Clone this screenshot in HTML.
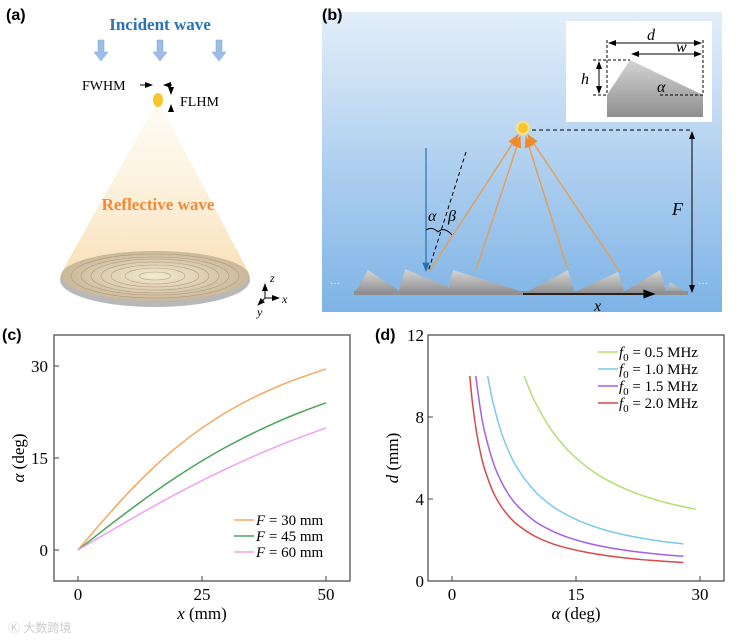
<!DOCTYPE html>
<html><head><meta charset="utf-8"><style>
body{margin:0;background:#fff;}
svg{display:block;font-family:"Liberation Serif",serif;}
.pl{font-family:"Liberation Sans",sans-serif;font-weight:bold;font-size:16px;}
</style></head><body>
<svg width="748" height="641" viewBox="0 0 748 641" xmlns="http://www.w3.org/2000/svg">
<defs>
<linearGradient id="bg" x1="0" y1="0" x2="0" y2="1"><stop offset="0" stop-color="#e3eef9"/><stop offset="1" stop-color="#7db3e6"/></linearGradient>
<linearGradient id="cone" x1="0" y1="0" x2="0" y2="1"><stop offset="0" stop-color="#fdf3dc" stop-opacity="0.3"/><stop offset="1" stop-color="#f7d9a8"/></linearGradient>
<linearGradient id="tri" x1="0" y1="0" x2="0" y2="1"><stop offset="0" stop-color="#d4d4d4"/><stop offset="1" stop-color="#8e8e8e"/></linearGradient>
<radialGradient id="disc" cx="0.5" cy="0.5" r="0.5"><stop offset="0" stop-color="#f3ead0"/><stop offset="1" stop-color="#c9b89a"/></radialGradient>
<marker id="ah" markerWidth="8" markerHeight="8" refX="7" refY="4" orient="auto"><path d="M0,1 L8,4 L0,7z" fill="#000"/></marker>
<marker id="ahb" markerWidth="8" markerHeight="8" refX="7" refY="4" orient="auto"><path d="M0,1 L8,4 L0,7z" fill="#2a6fb4"/></marker>
<marker id="aho" markerWidth="8" markerHeight="8" refX="7" refY="4" orient="auto"><path d="M0,1 L8,4 L0,7z" fill="#f08a2a"/></marker>
</defs>

<!-- Panel a -->
<g>
<text class="pl" x="6" y="20">(a)</text>
<text x="160" y="30" text-anchor="middle" font-size="17" font-weight="bold" fill="#2a72b5">Incident wave</text>
<g fill="#9dbde6" stroke="#7aa3d6" stroke-width="0.5">
<path d="M98,40h6v12h4l-7,9l-7,-9h4z"/><path d="M157,40h6v12h4l-7,9l-7,-9h4z"/><path d="M216,40h6v12h4l-7,9l-7,-9h4z"/>
</g>
<path d="M158,100 L60,275 A95,28 0 0 0 250,275 Z" fill="url(#cone)"/>
<ellipse cx="155" cy="280" rx="95" ry="27" fill="#b8b8b8"/>
<ellipse cx="155" cy="276" rx="94" ry="25" fill="url(#disc)"/>
<g fill="none" stroke="#a89070" stroke-width="0.6" opacity="0.8">
<ellipse cx="155" cy="276" rx="84" ry="22"/><ellipse cx="155" cy="276" rx="74" ry="19"/><ellipse cx="155" cy="276" rx="64" ry="17"/><ellipse cx="155" cy="276" rx="54" ry="14"/><ellipse cx="155" cy="276" rx="44" ry="11"/><ellipse cx="155" cy="276" rx="30" ry="8"/><ellipse cx="155" cy="276" rx="16" ry="4"/>
</g>
<ellipse cx="158" cy="100" rx="5" ry="7" fill="#f7c531"/>
<text x="82" y="90" font-size="14">FWHM</text>
<line x1="140" y1="85" x2="152" y2="85" stroke="#000" marker-end="url(#ah)"/>
<line x1="172" y1="85" x2="164" y2="85" stroke="#000" marker-end="url(#ah)"/>
<line x1="171" y1="88" x2="171" y2="94" stroke="#000" marker-end="url(#ah)"/>
<line x1="171" y1="112" x2="171" y2="105" stroke="#000" marker-end="url(#ah)"/>
<text x="180" y="106" font-size="14">FLHM</text>
<text x="158" y="210" text-anchor="middle" font-size="17" font-weight="bold" fill="#f08a3a">Reflective wave</text>
<g stroke="#000" stroke-width="1">
<line x1="265" y1="298" x2="265" y2="284" marker-end="url(#ah)"/><line x1="265" y1="298" x2="279" y2="298" marker-end="url(#ah)"/><line x1="265" y1="298" x2="258" y2="305" marker-end="url(#ah)"/>
</g>
<text x="270" y="282" font-size="12" font-style="italic">z</text><text x="282" y="303" font-size="12" font-style="italic">x</text><text x="257" y="316" font-size="12" font-style="italic">y</text>
</g>

<!-- Panel b -->
<g>
<rect x="322" y="12" width="400" height="300" fill="url(#bg)"/>
<text class="pl" x="322" y="20">(b)</text>
<g fill="url(#tri)">
<path d="M354,294 L368,270 L398,290 L398,294Z"/>
<path d="M398,294 L405,269 L448,287 L448,294Z"/>
<path d="M447,294 L453,270 L523,292 L523,294Z"/>
<path d="M523,294 L568,270 L575,294Z"/>
<path d="M570,294 L618,272 L625,294Z"/>
<path d="M620,294 L660,270 L667,294Z"/>
<path d="M667,294 L670,282 L688,294Z"/>
<rect x="354" y="291" width="334" height="4" fill="#909090"/>
</g>
<text x="330" y="287" fill="#e8f1fa" font-size="10">···</text><text x="698" y="287" fill="#e8f1fa" font-size="10">···</text>
<line x1="426" y1="148" x2="426" y2="271" stroke="#2a6fb4" stroke-width="1.2" marker-end="url(#ahb)"/>
<line x1="466" y1="152" x2="428" y2="272" stroke="#000" stroke-dasharray="4,3"/>
<g stroke="#e0a060" stroke-width="1.5">
<line x1="429" y1="272" x2="518" y2="135" marker-end="url(#aho)"/>
<line x1="476" y1="270" x2="520" y2="137" marker-end="url(#aho)"/>
<line x1="568" y1="270" x2="526" y2="137" marker-end="url(#aho)"/>
<line x1="620" y1="272" x2="528" y2="135" marker-end="url(#aho)"/>
</g>
<circle cx="523" cy="128" r="6" fill="#f7c531" stroke="#fbe27a" stroke-width="2"/>
<text x="428" y="221" font-size="16" font-style="italic">α</text><text x="448" y="221" font-size="16" font-style="italic">β</text>
<path d="M426,230 Q432,226 438,232 M438,232 Q444,226 452,235" fill="none" stroke="#000"/>
<line x1="532" y1="130" x2="692" y2="130" stroke="#000" stroke-dasharray="4,3"/>
<line x1="692" y1="210" x2="692" y2="132" stroke="#000" marker-end="url(#ah)"/>
<line x1="692" y1="210" x2="692" y2="292" stroke="#000" marker-end="url(#ah)"/>
<text x="672" y="215" font-size="18" font-style="italic">F</text>
<line x1="523" y1="294" x2="654" y2="294" stroke="#000" stroke-width="1.5" marker-end="url(#ah)"/>
<text x="594" y="311" font-size="16" font-style="italic">x</text>
<g>
<rect x="566" y="21" width="146" height="101" fill="#fff"/>
<path d="M607,95 L630,60 L703,95 L703,117 L607,117Z" fill="url(#tri)"/>
<g stroke="#000" stroke-dasharray="3,2" fill="none"><line x1="607" y1="40" x2="607" y2="95"/><line x1="703" y1="40" x2="703" y2="95"/><line x1="593" y1="60" x2="630" y2="60"/><line x1="593" y1="95" x2="607" y2="95"/><line x1="660" y1="95" x2="703" y2="95"/></g>
<line x1="655" y1="43" x2="609" y2="43" stroke="#000" marker-end="url(#ah)"/><line x1="655" y1="43" x2="701" y2="43" stroke="#000" marker-end="url(#ah)"/>
<line x1="665" y1="54" x2="632" y2="54" stroke="#000" marker-end="url(#ah)"/><line x1="665" y1="54" x2="701" y2="54" stroke="#000" marker-end="url(#ah)"/>
<line x1="599" y1="78" x2="599" y2="62" stroke="#000" marker-end="url(#ah)"/><line x1="599" y1="78" x2="599" y2="93" stroke="#000" marker-end="url(#ah)"/>
<text x="647" y="40" font-size="16" font-style="italic">d</text><text x="676" y="52" font-size="16" font-style="italic">w</text>
<text x="581" y="84" font-size="16" font-style="italic">h</text><text x="657" y="92" font-size="16" font-style="italic">α</text>
</g>
</g>

<!-- Panel c -->
<g id="pc">
<text class="pl" x="2" y="340">(c)</text>
<rect x="54" y="335" width="296" height="246" fill="none" stroke="#444" stroke-width="1.2"/>
</g>
<!-- Panel d -->
<g id="pd">
<text class="pl" x="375" y="340">(d)</text>
<rect x="428" y="335" width="296" height="246" fill="none" stroke="#444" stroke-width="1.2"/>
</g>
<text x="8" y="632" font-size="12" fill="#ccc" font-family="'Liberation Sans','Noto Sans CJK SC',sans-serif">Ⓚ 大数跨境</text>
</svg>
<script>
const NS="http://www.w3.org/2000/svg";
// Panel c data
const cX=[0,5,10,15,20,25,30,35,40,45,50];
const cF30=[0,4.73,9.22,13.28,16.85,19.9,22.5,24.7,26.57,28.15,29.52];
const cF45=[0,3.17,6.26,9.22,11.98,14.53,16.85,18.93,20.82,22.5,24.0];
const cF60=[0,2.38,4.73,7.02,9.22,11.31,13.28,15.13,16.85,18.43,19.9];
const cXTicks=[0,25,50];
const cYTicks=[0,15,30];
const cLegend=["F = 30 mm","F = 45 mm","F = 60 mm"];
// Panel d data
const dA05=[8.73,10,12,14,16,18,20,22,24,26,28,29.5];
const dD05=[10,8.77,7.38,6.39,5.66,5.10,4.67,4.32,4.04,3.81,3.62,3.50];
const dA10=[4.31,5,6,7,8,10,12,14,16,18,20,22,24,26,28];
const dD10=[10,8.64,7.21,6.20,5.44,4.39,3.69,3.20,2.83,2.55,2.33,2.16,2.02,1.90,1.81];
const dA15=[2.87,3.5,4,5,6,7,8,10,12,14,16,18,20,22,24,26,28];
const dD15=[10,8.20,7.19,5.76,4.81,4.13,3.63,2.92,2.46,2.13,1.89,1.70,1.56,1.44,1.35,1.27,1.21];
const dA20=[2.15,2.5,3,3.5,4,5,6,7,8,10,12,14,16,18,20,22,24,26,28];
const dD20=[10,8.60,7.18,6.15,5.39,4.32,3.61,3.10,2.72,2.19,1.84,1.60,1.42,1.28,1.17,1.08,1.01,0.95,0.905];
const dXTicks=[0,15,30];
const dYTicks=[0,4,8,12];
const dLegend=["0.5 MHz","1.0 MHz","1.5 MHz","2.0 MHz"];

function mk(tag,attrs,parent){const e=document.createElementNS(NS,tag);for(const k in attrs)e.setAttribute(k,attrs[k]);parent.appendChild(e);return e;}
function smooth(pts){let d="M"+pts[0][0]+","+pts[0][1];for(let i=0;i<pts.length-1;i++){const p0=pts[Math.max(0,i-1)],p1=pts[i],p2=pts[i+1],p3=pts[Math.min(pts.length-1,i+2)];d+=" C"+(p1[0]+(p2[0]-p0[0])/6)+","+(p1[1]+(p2[1]-p0[1])/6)+" "+(p2[0]-(p3[0]-p1[0])/6)+","+(p2[1]-(p3[1]-p1[1])/6)+" "+p2[0]+","+p2[1];}return d;}

// Panel c
const gc=document.getElementById('pc');
const cx=v=>78+v*(326-78)/50, cy=v=>550-v*(550-366)/30;
cXTicks.forEach(t=>{const l=mk('line',{x1:cx(t),x2:cx(t),y1:581,y2:576,stroke:'#444'},gc);

const tx=mk('text',{x:cx(t),y:600,'text-anchor':'middle','font-size':17},gc);tx.textContent=t;
});
cYTicks.forEach(t=>{const l=mk('line',{x1:54,x2:59,y1:cy(t),y2:cy(t),stroke:'#444'},gc);

const tx=mk('text',{x:48,y:cy(t)+6,'text-anchor':'end','font-size':17},gc);tx.textContent=t;
});
const cxl=mk('text',{x:202,y:619,'text-anchor':'middle','font-size':17},gc);cxl.innerHTML='<tspan font-style="italic">x</tspan> (mm)';

const cyl=mk('text',{x:0,y:0,'text-anchor':'middle','font-size':17,transform:'translate(24,458) rotate(-90)'},gc);cyl.innerHTML='<tspan font-style="italic">α</tspan> (deg)';

const cSeries=[cF30,cF45,cF60], cCols=['#f5a85a','#4aa35a','#f0a0f0'];
cSeries.forEach((s,i)=>{const p=mk('path',{d:smooth(cX.map((x,j)=>[cx(x),cy(s[j])])),fill:'none',stroke:cCols[i],'stroke-width':1.5},gc);

const ly=520+i*16;const l=mk('line',{x1:234,x2:254,y1:ly,y2:ly,stroke:cCols[i],'stroke-width':1.5},gc);

const t=mk('text',{x:256,y:ly+5,'font-size':15},gc);t.innerHTML='<tspan font-style="italic">F</tspan>'+cLegend[i].slice(1);
});

// Panel d
const gd=document.getElementById('pd');
const dx=v=>452+v*(700-452)/30, dy=v=>581-v*(581-335)/12;
dXTicks.forEach(t=>{const l=mk('line',{x1:dx(t),x2:dx(t),y1:581,y2:576,stroke:'#444'},gd);

const tx=mk('text',{x:dx(t),y:600,'text-anchor':'middle','font-size':17},gd);tx.textContent=t;
});
dYTicks.forEach(t=>{const l=mk('line',{x1:428,x2:433,y1:dy(t),y2:dy(t),stroke:'#444'},gd);

const tx=mk('text',{x:424,y:dy(t)+6,'text-anchor':'end','font-size':17},gd);tx.textContent=t;
});
const dxl=mk('text',{x:576,y:619,'text-anchor':'middle','font-size':17},gd);dxl.innerHTML='<tspan font-style="italic">α</tspan> (deg)';

const dyl=mk('text',{x:0,y:0,'text-anchor':'middle','font-size':17,transform:'translate(398,458) rotate(-90)'},gd);dyl.innerHTML='<tspan font-style="italic">d</tspan> (mm)';

const dSA=[dA05,dA10,dA15,dA20], dSD=[dD05,dD10,dD15,dD20], dCols=['#b5dd70','#7cc8ee','#a65ee8','#d84848'];
dSA.forEach((a,i)=>{const p=mk('path',{d:smooth(a.map((x,j)=>[dx(x),dy(dSD[i][j])])),fill:'none',stroke:dCols[i],'stroke-width':1.5},gd);

const ly=352+i*17;const l=mk('line',{x1:598,x2:618,y1:ly,y2:ly,stroke:dCols[i],'stroke-width':1.5},gd);

const t=mk('text',{x:619,y:ly+5,'font-size':15},gd);t.innerHTML='<tspan font-style="italic">f</tspan><tspan font-size="11" dy="4">0</tspan><tspan dy="-4"> = '+dLegend[i]+'</tspan>';
});
</script>
</body></html>
